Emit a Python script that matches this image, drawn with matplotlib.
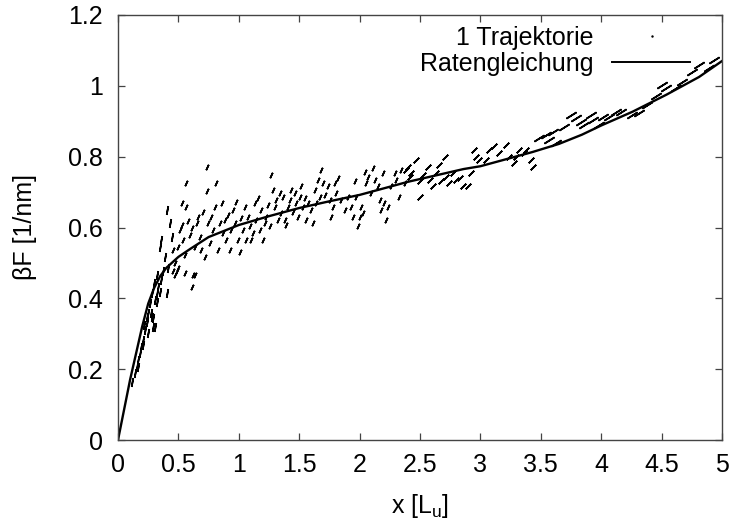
import matplotlib
matplotlib.use('Agg')
import matplotlib.pyplot as plt
import numpy as np
from matplotlib.lines import Line2D
from matplotlib.ticker import FuncFormatter

plt.rcParams['font.family'] = ['Liberation Sans', 'DejaVu Sans']
plt.rcParams['mathtext.default'] = 'regular'

# ---- data ----
rate_x = [0, 0.05, 0.1, 0.15, 0.2, 0.25, 0.3, 0.35, 0.4, 0.5, 0.6, 0.75, 1.0, 1.25,
          1.5, 1.75, 2.0, 2.4, 2.86, 3.0, 3.43, 3.65, 3.84, 4.0, 4.26, 4.54, 4.81, 5.0]
rate_y = [0, 0.085, 0.17, 0.245, 0.32, 0.385, 0.43, 0.463, 0.486, 0.517, 0.54, 0.573,
          0.607, 0.632, 0.655, 0.674, 0.692, 0.729, 0.765, 0.773, 0.813, 0.836, 0.862,
          0.888, 0.927, 0.975, 1.025, 1.07]

traj_x = [0.12, 0.14, 0.155, 0.168, 0.19, 0.209, 0.223, 0.237, 0.25, 0.278, 0.292, 0.264,
          0.306, 0.319, 0.333, 0.278, 0.30, 0.319, 0.347, 0.36, 0.374, 0.402, 0.217, 0.241,
          0.25, 0.273, 0.292, 0.306, 0.319, 0.209, 0.182, 0.168, 0.347, 0.36, 0.402, 0.388,
          0.43, 0.443, 0.416, 0.457, 0.498, 0.471, 0.553, 0.636, 0.609,
          0.457, 0.471, 0.485, 0.498, 0.512, 0.526, 0.54, 0.526, 0.567, 0.567, 0.553, 0.581,
          0.595, 0.609, 0.622, 0.636, 0.65, 0.664, 0.677, 0.691, 0.705, 0.719, 0.733, 0.733,
          0.746, 0.76, 0.774, 0.788, 0.801, 0.815, 0.829, 0.843, 0.857, 0.87, 0.884, 0.898,
          0.912, 0.925, 0.939, 0.953, 0.967, 0.98, 0.994, 1.008, 1.022, 1.036, 1.049, 1.063,
          1.077, 1.091, 1.104, 1.118, 1.132, 1.146, 1.16, 1.173, 1.187, 1.2, 1.215, 1.228,
          1.242, 1.256, 1.27, 1.284, 1.297, 1.311, 1.325, 1.339, 1.352, 1.366, 1.38, 1.394,
          1.407, 1.421, 1.435, 1.449, 1.463, 1.476, 1.49, 1.504, 1.518, 1.531, 1.545, 1.559,
          1.573, 1.6, 1.614, 1.628, 1.642, 1.655, 1.669, 1.683, 1.697, 1.711, 1.738, 1.752,
          1.766, 1.779, 1.793, 1.807, 1.821, 1.848, 1.876, 1.903, 1.931, 1.945, 1.958, 1.972,
          1.986, 2.0, 2.014, 2.027, 2.041, 2.055, 2.069, 2.096, 2.11, 2.124, 2.151, 2.165,
          2.179, 2.193, 2.206, 2.22, 2.234, 2.262, 2.289, 2.303, 2.33, 2.344, 2.372, 2.399,
          2.427,
          2.386, 2.414, 2.469, 2.496, 2.496, 2.524, 2.565, 2.579, 2.606, 2.634, 2.661, 2.675,
          2.703, 2.717, 2.744, 2.772, 2.799, 2.827, 2.854, 2.896, 2.923, 2.951, 2.965, 2.992,
          3.047, 3.075, 3.116, 3.157, 3.213, 3.24, 3.281, 3.295, 3.323, 3.364, 3.378, 3.419,
          3.433, 3.488, 3.543, 3.571, 3.598, 3.626, 3.695, 3.75, 3.791, 3.832, 3.86, 3.915,
          3.929, 3.984, 4.011, 4.066, 4.122, 4.163, 4.259, 4.314, 4.383, 4.452, 4.507, 4.535,
          4.617, 4.672, 4.755, 4.81, 4.893, 4.934]
traj_y = [0.165, 0.19, 0.21, 0.226, 0.264, 0.283, 0.311, 0.334, 0.358, 0.348, 0.32, 0.386,
          0.396, 0.414, 0.433, 0.414, 0.443, 0.466, 0.419, 0.452, 0.476, 0.414, 0.325, 0.348,
          0.301, 0.358, 0.344, 0.32, 0.391, 0.268, 0.245, 0.207, 0.546, 0.565, 0.65, 0.518,
          0.612, 0.574, 0.485, 0.476, 0.485, 0.466, 0.471, 0.466, 0.433,
          0.537, 0.499, 0.476, 0.546, 0.593, 0.607, 0.565, 0.669, 0.659, 0.725, 0.523, 0.617,
          0.579, 0.598, 0.466, 0.546, 0.612, 0.631, 0.574, 0.537, 0.645, 0.518, 0.702, 0.772,
          0.612, 0.556, 0.631, 0.593, 0.659, 0.725, 0.537, 0.612, 0.669, 0.584, 0.621, 0.565,
          0.636, 0.537, 0.593, 0.65, 0.612, 0.673, 0.565, 0.532, 0.626, 0.593, 0.659, 0.565,
          0.631, 0.603, 0.565, 0.584, 0.669, 0.621, 0.683, 0.593, 0.65, 0.565, 0.612, 0.631,
          0.664, 0.603, 0.749, 0.706, 0.659, 0.678, 0.621, 0.697, 0.64, 0.687, 0.621, 0.607,
          0.659, 0.678, 0.706, 0.645, 0.697, 0.669, 0.631, 0.687, 0.716, 0.659, 0.683, 0.621,
          0.669, 0.65, 0.612, 0.706, 0.669, 0.735, 0.687, 0.763, 0.725, 0.692, 0.716, 0.678,
          0.631, 0.659, 0.725, 0.697, 0.739, 0.678, 0.65, 0.687, 0.659, 0.631, 0.73, 0.687,
          0.603, 0.631, 0.659, 0.64, 0.758, 0.725, 0.744, 0.697, 0.767, 0.735, 0.716, 0.678,
          0.65, 0.753, 0.669, 0.621, 0.659, 0.716, 0.753, 0.735, 0.687, 0.763, 0.725, 0.772,
          0.753,
          0.763, 0.744, 0.791, 0.73, 0.687, 0.749, 0.772, 0.735, 0.716, 0.753, 0.777, 0.73,
          0.80, 0.744, 0.725, 0.753, 0.735, 0.739, 0.716, 0.716, 0.753, 0.819, 0.80, 0.791,
          0.791, 0.819, 0.829, 0.81, 0.833, 0.80, 0.782, 0.80, 0.819, 0.81, 0.819, 0.791,
          0.772, 0.852, 0.861, 0.847, 0.871, 0.838, 0.885, 0.918, 0.909, 0.899, 0.89, 0.918,
          0.904, 0.89, 0.913, 0.913, 0.927, 0.927, 0.918, 0.923, 0.946, 0.97, 1.003, 0.993,
          0.993, 1.012, 1.04, 1.059, 1.05, 1.073]

x_ticks = [0, 0.5, 1, 1.5, 2, 2.5, 3, 3.5, 4, 4.5, 5]
y_ticks = [0, 0.2, 0.4, 0.6, 0.8, 1.0, 1.2]

# ---- figure ----
W, H = 729, 526
fig = plt.figure(figsize=(W / 100, H / 100), dpi=100)
ax = fig.add_axes([118 / W, 86 / H, 604 / W, 425 / H])
ax.set_xlim(0, 5)
ax.set_ylim(0, 1.2)

tx = np.array(traj_x)
ty = np.array(traj_y)
groups = [
    (tx < 0.45, -10, 6.5, 1.2),
    ((tx >= 0.45) & (tx < 2.38), -25, 4.3, 1.2),
    ((tx >= 2.38) & (tx < 3.45), -45, 5.5, 1.2),
    (tx >= 3.45, -58, 8.5, 1.2),
]
for mask, ang, ms, mew in groups:
    ax.plot(tx[mask], ty[mask], ls='none', marker=(2, 2, ang), ms=ms,
            mew=mew, mec='black', color='black')

ax.plot(rate_x, rate_y, color='black', lw=1.7, solid_joinstyle='round')

ax.set_xticks(x_ticks)
ax.set_yticks(y_ticks)
fmt = FuncFormatter(lambda v, p: '%g' % v)
ax.xaxis.set_major_formatter(fmt)
ax.yaxis.set_major_formatter(fmt)
ax.tick_params(direction='in', length=5, width=0.9, top=True, right=True,
               labelsize=18, color='#444444')
ax.tick_params(axis='x', pad=9)
ax.tick_params(axis='y', pad=11)
for s in ax.spines.values():
    s.set_color('#444444')
    s.set_linewidth(1.0)

fig.text(420 / W, 1 - 506 / H, 'x [L$_u$]', ha='center', va='center', fontsize=18)
fig.text(25 / W, 1 - 227 / H, 'βF [1/nm]', ha='center', va='center',
         rotation=90, fontsize=18)

# legend (gnuplot style)
fig.text(594 / W, 1 - 38 / H, '1 Trajektorie', ha='right', va='center', fontsize=18)
fig.text(594 / W, 1 - 64 / H, 'Ratengleichung', ha='right', va='center', fontsize=18)
fig.add_artist(Line2D([652 / W], [1 - 36 / H], ls='none', marker='s', ms=0.7,
                      color='black', transform=fig.transFigure))
fig.add_artist(Line2D([612 / W, 690 / W], [1 - 62 / H, 1 - 62 / H], color='black',
                      lw=1.4, transform=fig.transFigure))

fig.savefig('out.png', dpi=100)
